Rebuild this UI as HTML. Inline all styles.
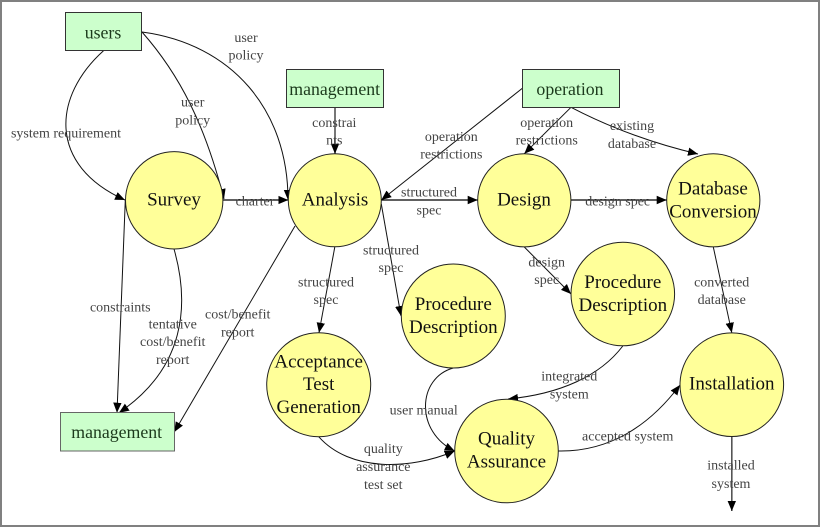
<!DOCTYPE html>
<html><head><meta charset="utf-8"><title>Diagram</title>
<style>
html,body{margin:0;padding:0;background:#fff;width:820px;height:527px;overflow:hidden}
svg{display:block;filter:blur(.3px)}
.n{font:19px "Liberation Serif",serif;fill:#111;text-anchor:middle}
.e{font:17.8px "Liberation Serif",serif;fill:#1c3a1c;text-anchor:middle}
.l{font:14px "Liberation Serif",serif;fill:#444;text-anchor:middle}
.c{fill:none;stroke:#111;stroke-width:1;marker-end:url(#a)}
.g{fill:none;stroke:#555;stroke-width:1.6;marker-end:url(#a)}
.s{fill:none;stroke:#000;stroke-width:1.2;marker-end:url(#a)}
</style></head><body>
<svg width="820" height="527" viewBox="0 0 820 527" xmlns="http://www.w3.org/2000/svg">
<defs><marker id="a" markerUnits="userSpaceOnUse" markerWidth="12" markerHeight="12" refX="10" refY="5" orient="auto"><path d="M0 0.8L10 5L0 9.2Z" fill="#000"/></marker></defs>
<rect x="0" y="0" width="820" height="527" fill="#fff"/>
<rect x="1" y="1" width="818" height="525" fill="none" stroke="#808080" stroke-width="2"/>

<path class="c" d="M103.5 50.7C53 96 47 165 125 200"/>
<path class="c" d="M142 32C180 75 205 125 224 199"/>
<path class="c" d="M142 32C232 44 288 110 288 200"/>
<path class="g" d="M335 107.3V153.7"/>
<path class="c" d="M522.7 88L381.3 200"/>
<path class="c" d="M571 107.3L524.3 153.7"/>
<path class="c" d="M571 107.3Q630 138 698 154"/>
<path class="s" d="M223 200H288.3"/>
<path class="s" d="M381.3 200H477.7"/>
<path class="s" d="M571 200H666.7"/>
<path class="c" d="M125.3 200L117 412.7"/>
<path class="c" d="M174 249C190 305 185 368 119 412.7"/>
<path class="c" d="M295 226L174.3 432"/>
<path class="c" d="M334.8 247L319 332.7"/>
<path class="c" d="M381.3 204L401 316"/>
<path class="c" d="M524.3 247L571 294"/>
<path class="c" d="M713.3 247L731.8 332.7"/>
<path class="c" d="M453.3 368C417 378 415 432 454.7 451"/>
<path class="c" d="M318.7 436.7C350 472 410 470 454.7 451"/>
<path class="c" d="M622.8 346C600 376 560 394 508 399"/>
<path class="c" d="M558.3 451C610 452 650 425 680 385"/>
<path class="g" d="M731.8 436.7V511"/>

<g fill="#CCFFCC" stroke="#333" stroke-width="1">
<rect x="65.5" y="12.5" width="76" height="38"/>
<rect x="286.5" y="69.5" width="97" height="38"/>
<rect x="522.5" y="69.5" width="97" height="38"/>
<rect x="60.5" y="412.5" width="114" height="38.5" stroke="#666"/>
</g>
<g fill="#FFFF99" stroke="#222" stroke-width="1">
<circle cx="174.2" cy="200.3" r="48.7"/>
<circle cx="334.8" cy="200.3" r="46.5"/>
<circle cx="524.3" cy="200.3" r="46.6"/>
<circle cx="713.3" cy="200.3" r="46.6"/>
<circle cx="622.8" cy="294" r="51.8"/>
<circle cx="453.3" cy="316" r="52"/>
<circle cx="318.7" cy="384.7" r="52"/>
<circle cx="506.5" cy="451" r="51.8"/>
<circle cx="731.8" cy="384.7" r="51.8"/>
</g>

<text class="e" x="103" y="38.3">users</text>
<text class="e" x="334.7" y="95">management</text>
<text class="e" x="570" y="95">operation</text>
<text class="e" x="116.7" y="438">management</text>

<text class="n" x="174" y="205.5">Survey</text>
<text class="n" x="335" y="205.5">Analysis</text>
<text class="n" x="524" y="205.5">Design</text>
<text class="n" x="713" y="194.3">Database</text>
<text class="n" x="713" y="217.3">Conversion</text>
<text class="n" x="622.8" y="288">Procedure</text>
<text class="n" x="622.8" y="311">Description</text>
<text class="n" x="453.3" y="310">Procedure</text>
<text class="n" x="453.3" y="333">Description</text>
<text class="n" x="318.7" y="367.3">Acceptance</text>
<text class="n" x="318.7" y="390">Test</text>
<text class="n" x="318.7" y="413">Generation</text>
<text class="n" x="506.5" y="444.7">Quality</text>
<text class="n" x="506.5" y="467.3">Assurance</text>
<text class="n" x="731.8" y="389.7">Installation</text>

<text class="l" x="66" y="137.7">system requirement</text>
<text class="l" x="246" y="42">user</text>
<text class="l" x="246" y="59.5">policy</text>
<text class="l" x="192.7" y="106.7">user</text>
<text class="l" x="192.7" y="124.3">policy</text>
<text class="l" x="334.3" y="127">constrai</text>
<text class="l" x="334.3" y="144.5">nts</text>
<text class="l" x="255" y="205.7">charter</text>
<text class="l" x="429" y="196.7">structured</text>
<text class="l" x="429" y="214.3">spec</text>
<text class="l" x="451.3" y="141">operation</text>
<text class="l" x="451.3" y="158.5">restrictions</text>
<text class="l" x="546.7" y="127">operation</text>
<text class="l" x="546.7" y="144.5">restrictions</text>
<text class="l" x="632" y="130">existing</text>
<text class="l" x="632" y="148">database</text>
<text class="l" x="617.7" y="205.7">design spec</text>
<text class="l" x="391" y="254.3">structured</text>
<text class="l" x="391" y="271.8">spec</text>
<text class="l" x="326" y="286.3">structured</text>
<text class="l" x="326" y="304">spec</text>
<text class="l" x="120.3" y="311.7">constraints</text>
<text class="l" x="172.7" y="328.3">tentative</text>
<text class="l" x="172.7" y="346">cost/benefit</text>
<text class="l" x="172.7" y="364">report</text>
<text class="l" x="237.7" y="318.7">cost/benefit</text>
<text class="l" x="237.7" y="336.3">report</text>
<text class="l" x="546.7" y="266.5">design</text>
<text class="l" x="546.7" y="284">spec</text>
<text class="l" x="721.7" y="286.3">converted</text>
<text class="l" x="721.7" y="304">database</text>
<text class="l" x="569.3" y="380.7">integrated</text>
<text class="l" x="569.3" y="398.3">system</text>
<text class="l" x="423.7" y="414.7">user manual</text>
<text class="l" x="383.3" y="453">quality</text>
<text class="l" x="383.3" y="471">assurance</text>
<text class="l" x="383.3" y="489">test set</text>
<text class="l" x="627.7" y="440.3">accepted system</text>
<text class="l" x="731" y="469.7">installed</text>
<text class="l" x="731" y="488">system</text>
</svg>
</body></html>
